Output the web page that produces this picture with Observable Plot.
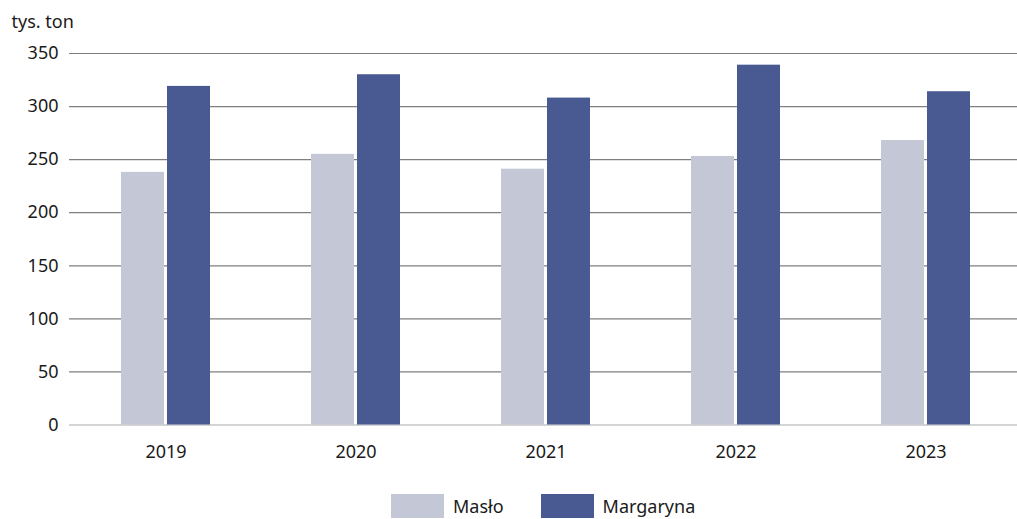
<!DOCTYPE html>
<html>
<head>
<meta charset="utf-8">
<script src="https://cdn.jsdelivr.net/npm/d3@7"></script>
<script src="https://cdn.jsdelivr.net/npm/@observablehq/plot@0.6"></script>
<style>
  html, body { margin: 0; padding: 0; background: #fff; }
  body { width: 1017px; height: 519px; overflow: hidden; font-family: "Noto Sans", sans-serif; color: #1a1a1a; }
  #legend { display: flex; align-items: center; margin-top: 24px; padding-left: 391px; font-size: 18px; }
  .sw { width: 53px; height: 24px; margin-right: 9px; }
  .item { display: flex; align-items: center; margin-right: 37px; }
</style>
</head>
<body>
<div id="chart"></div>
<div id="legend"></div>
<script>
const years = ["2019", "2020", "2021", "2022", "2023"];
const seriesNames = ["Masło", "Margaryna"];
const maslo = [238, 255, 241, 253, 268];
const margaryna = [319, 330, 308, 339, 314];
const yTicks = [0, 50, 100, 150, 200, 250, 300, 350];
const unitLabel = "tys. ton";
const colors = ["#c3c7d6", "#485a91"];

const masloData = years.map((y, i) => ({year: y, value: maslo[i]}));
const margData = years.map((y, i) => ({year: y, value: margaryna[i]}));

// band layout: step ~190.6, bandwidth ~89; bars 43 wide with 3px gap
const padIn = 0.533, padOut = 0.267;
const xRange = [69, 1022];
const step = (xRange[1] - xRange[0]) / (years.length - padIn + 2 * padOut);
const bandW = step * (1 - padIn);
const barW = 43;
const inset = bandW - barW;

const chart = Plot.plot({
  width: 1017,
  height: 470,
  marginTop: 53,
  marginBottom: 45.5,
  marginLeft: 69,
  marginRight: 0,
  style: {fontFamily: "Noto Sans, sans-serif", fontSize: "18px", color: "#1a1a1a", background: "#fff"},
  x: {domain: years, range: xRange, paddingInner: padIn, paddingOuter: padOut, label: null},
  y: {domain: [0, 350], label: null},
  marks: [
    Plot.ruleY(yTicks.filter(d => d > 0), {stroke: "#7f7f7f", strokeWidth: 1.2}),
    Plot.ruleY([0], {stroke: "#d4d4d4", strokeWidth: 2}),
    Plot.barY(masloData, {x: "year", y: "value", fill: colors[0], insetLeft: 0, insetRight: inset}),
    Plot.barY(margData, {x: "year", y: "value", fill: colors[1], insetLeft: inset, insetRight: 0}),
    Plot.axisY({ticks: yTicks, tickSize: 0, tickPadding: 11, label: null}),
    Plot.axisX({tickSize: 0, tickPadding: 20, label: null}),
    Plot.text([unitLabel], {frameAnchor: "top-left", dx: -58, dy: -26, textAnchor: "start", lineAnchor: "bottom", fill: "#1a1a1a", fontSize: 18})
  ]
});
document.getElementById("chart").appendChild(chart);

const legend = document.getElementById("legend");
seriesNames.forEach((s, i) => {
  const it = document.createElement("div");
  it.className = "item";
  const sw = document.createElement("div");
  sw.className = "sw";
  sw.style.background = colors[i];
  const t = document.createElement("span");
  t.textContent = s;
  it.appendChild(sw);
  it.appendChild(t);
  legend.appendChild(it);
});
</script>
</body>
</html>
